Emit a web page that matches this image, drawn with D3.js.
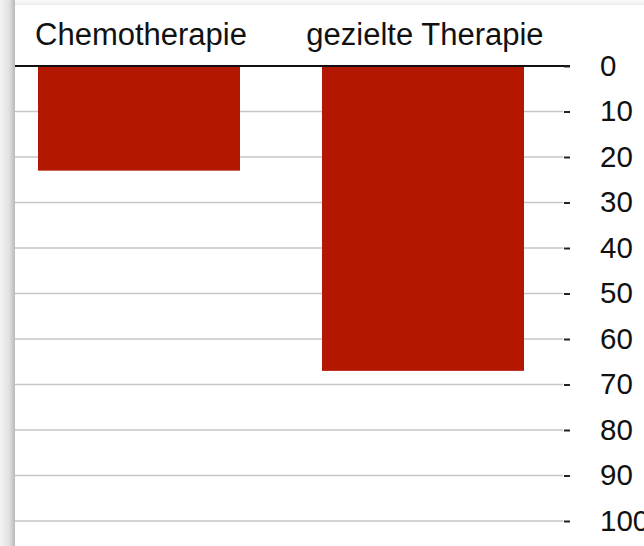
<!DOCTYPE html>
<html>
<head>
<meta charset="utf-8">
<script src="https://cdn.jsdelivr.net/npm/d3@7"></script>
<style>
  html, body { margin: 0; padding: 0; background: #ffffff; overflow: hidden; }
  svg { display: block; }
  text { font-family: "Liberation Sans", Arial, Helvetica, sans-serif; fill: #111; }
</style>
</head>
<body>
<script>
// Share of patients per treatment (percent, axis pointing downwards)
const categories = ["Chemotherapie", "gezielte Therapie"];
const values = [23, 67];
const tickValues = [0, 10, 20, 30, 40, 50, 60, 70, 80, 90, 100];

const W = 644, H = 546;
const svg = d3.select("body").append("svg").attr("width", W).attr("height", H);

const cardX = 15, cardY = 5;

// shading around the card: darker along the left edge, faint along the top
const defs = svg.append("defs");
const gl = defs.append("linearGradient").attr("id", "shadeLeft")
  .attr("x1", 0).attr("x2", 1).attr("y1", 0).attr("y2", 0);
gl.append("stop").attr("offset", "0%").attr("stop-color", "#f3f3f3");
gl.append("stop").attr("offset", "60%").attr("stop-color", "#e2e2e2");
gl.append("stop").attr("offset", "100%").attr("stop-color", "#b9b9b9");
const gt = defs.append("linearGradient").attr("id", "shadeTop")
  .attr("x1", 0).attr("x2", 0).attr("y1", 0).attr("y2", 1);
gt.append("stop").attr("offset", "0%").attr("stop-color", "#fbfbfb");
gt.append("stop").attr("offset", "100%").attr("stop-color", "#ececec");

svg.append("rect").attr("x", cardX).attr("y", 0)
  .attr("width", W - cardX).attr("height", cardY).attr("fill", "url(#shadeTop)");
svg.append("rect").attr("x", 0).attr("y", 0)
  .attr("width", cardX).attr("height", H).attr("fill", "url(#shadeLeft)");

svg.append("rect")
  .attr("x", cardX).attr("y", cardY)
  .attr("width", W - cardX).attr("height", H - cardY)
  .attr("fill", "#fff");

const y = d3.scaleLinear().domain([0, 100]).range([66, 521]);
const x = d3.scaleBand().domain(categories)
  .range([15, 547]).paddingInner(0.2887).paddingOuter(0.081);

const gridRight = 563;

// horizontal grid lines
svg.append("g").selectAll("line")
  .data(tickValues.filter(d => d > 0))
  .join("line")
  .attr("x1", cardX).attr("x2", gridRight)
  .attr("y1", d => y(d)).attr("y2", d => y(d))
  .attr("stroke", "#c6c6c6").attr("stroke-width", 1.5);

// bars hanging from the zero line
svg.append("g").selectAll("rect")
  .data(categories.map((c, i) => ({ c, v: values[i] })))
  .join("rect")
  .attr("x", d => x(d.c))
  .attr("y", y(0))
  .attr("width", x.bandwidth())
  .attr("height", d => y(d.v) - y(0))
  .attr("fill", "#b31700");

// zero line
svg.append("line")
  .attr("x1", cardX).attr("x2", 570)
  .attr("y1", y(0)).attr("y2", y(0))
  .attr("stroke", "#111").attr("stroke-width", 2);

// value axis on the right
const axis = d3.axisRight(y).tickValues(tickValues).tickSize(6).tickPadding(30);
const ag = svg.append("g").attr("transform", `translate(${gridRight + 1},0)`).call(axis);
ag.select(".domain").remove();
ag.selectAll(".tick line").attr("stroke", "#222").attr("stroke-width", 2);
ag.selectAll(".tick text")
  .attr("font-size", 29.5)
  .attr("font-family", "Liberation Sans, Arial, sans-serif")
  .attr("fill", "#111");

// category labels above the bars
svg.append("g").selectAll("text")
  .data(categories)
  .join("text")
  .attr("x", d => x(d) + x.bandwidth() / 2 + 2)
  .attr("y", 45)
  .attr("text-anchor", "middle")
  .attr("font-size", 31)
  .text(d => d);
</script>
</body>
</html>
